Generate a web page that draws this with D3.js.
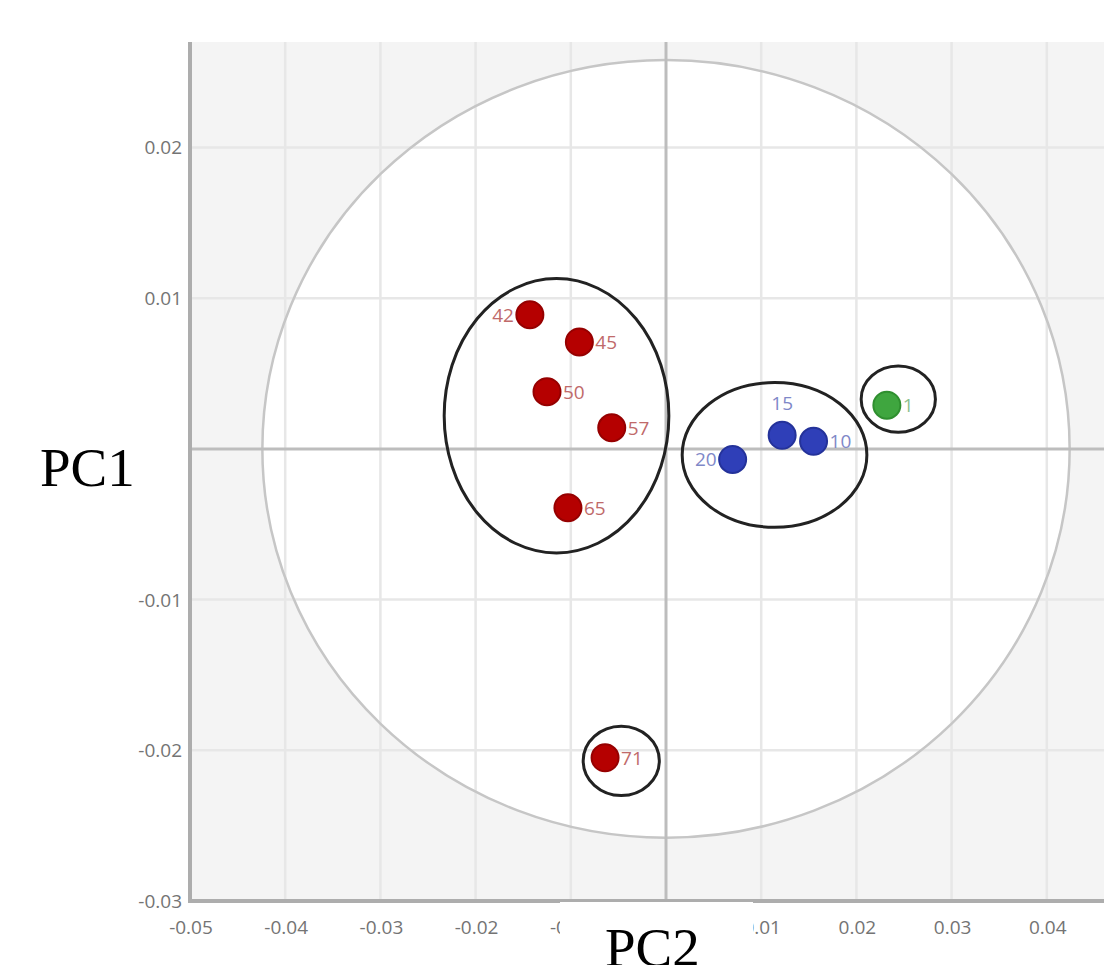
<!DOCTYPE html>
<html>
<head>
<meta charset="utf-8">
<script src="https://cdn.jsdelivr.net/npm/d3@7"></script>
<style>
  body { margin: 0; background: #fff; }
  svg { display: block; }
</style>
</head>
<body>
<svg id="chart" width="1104" height="965"></svg>
<script>
// sample scores
let sampleNames = ["42", "45", "50", "57", "65", "71", "15", "10", "20", "1"];
let sampleGroups = ["red", "red", "red", "red", "red", "red", "blue", "blue", "blue", "green"];
let pc2Values = [-0.0143, -0.0091, -0.0125, -0.0057, -0.0103, -0.0064, 0.0122, 0.0155, 0.0070, 0.0232];
let pc1Values = [0.0089, 0.0071, 0.0038, 0.0014, -0.0039, -0.0205, 0.0009, 0.0005, -0.0007, 0.0029];
let labelSides = ["left", "right", "right", "right", "right", "right", "top", "right", "left", "right"];

// hand drawn group rings (centre x, centre y, radius x, radius y)
let ringCx = [-0.0115, 0.0114, 0.0244, -0.0047];
let ringCy = [0.0022, -0.0004, 0.0033, -0.0207];
let ringRx = [0.0118, 0.0097, 0.0039, 0.0040];
let ringRy = [0.0091, 0.0048, 0.0022, 0.0023];

// big reference circle
let circleRx = 0.0424;
let circleRy = 0.0258;

let xTicks = [-0.05, -0.04, -0.03, -0.02, -0.01, 0, 0.01, 0.02, 0.03, 0.04];
let xTickLabels = ["-0.05", "-0.04", "-0.03", "-0.02", "-0.01", "0", "0.01", "0.02", "0.03", "0.04"];
let yTicks = [-0.03, -0.02, -0.01, 0, 0.01, 0.02];
let yTickLabels = ["-0.03", "-0.02", "-0.01", "0", "0.01", "0.02"];

let colours = {"red": "#b50000", "blue": "#2f3fb8", "green": "#3fa63f"};
let strokes = {"red": "#960000", "blue": "#24329a", "green": "#2f8f2f"};
let labelColours = {"red": "#c06a6a", "blue": "#7f88c8", "green": "#8cbf8c"};

let svg = d3.select("#chart");
let width = 1104, height = 965;
let margin = {"left": 190, "top": 42, "bottom": 64};

let x = d3.scaleLinear().domain([-0.05, 0.05]).range([margin.left, margin.left + 952]);
let y = d3.scaleLinear().domain([-0.03, 0.027]).range([height - margin.bottom, margin.top]);

let plotW = x(0.05) - x(-0.05);
let plotH = y(-0.03) - y(0.027);

svg.append("defs").append("clipPath").attr("id", "plotClip")
  .append("rect")
  .attr("x", x(-0.05)).attr("y", y(0.027))
  .attr("width", plotW).attr("height", plotH);

let plot = svg.append("g").attr("clip-path", "url(#plotClip)");

plot.append("rect")
  .attr("x", x(-0.05)).attr("y", y(0.027))
  .attr("width", plotW).attr("height", plotH)
  .attr("fill", "#f4f4f4");

// white inside the circle
plot.append("ellipse")
  .attr("cx", x(0)).attr("cy", y(0))
  .attr("rx", x(circleRx) - x(0))
  .attr("ry", y(0) - y(circleRy))
  .attr("fill", "#fff");

// grid
plot.selectAll(".vgrid")
  .data(xTicks.filter(d => d !== 0).concat([0.05]))
  .enter().append("line")
    .attr("class", "vgrid")
    .attr("x1", d => x(d)).attr("x2", d => x(d))
    .attr("y1", y(0.027)).attr("y2", y(-0.03))
    .attr("stroke", "#e7e7e7")
    .attr("stroke-width", 2.5);

plot.selectAll(".hgrid")
  .data(yTicks.filter(d => d !== 0))
  .enter().append("line")
    .attr("class", "hgrid")
    .attr("x1", x(-0.05)).attr("x2", x(0.05))
    .attr("y1", d => y(d)).attr("y2", d => y(d))
    .attr("stroke", "#e7e7e7")
    .attr("stroke-width", 2.5);

plot.append("ellipse")
  .attr("cx", x(0)).attr("cy", y(0))
  .attr("rx", x(circleRx) - x(0))
  .attr("ry", y(0) - y(circleRy))
  .attr("fill", "none")
  .attr("stroke", "#c6c6c6")
  .attr("stroke-width", 2.5);

// zero lines
plot.append("line")
  .attr("x1", x(0)).attr("x2", x(0))
  .attr("y1", y(0.027)).attr("y2", y(-0.03))
  .attr("stroke", "#bdbdbd").attr("stroke-width", 3);
plot.append("line")
  .attr("x1", x(-0.05)).attr("x2", x(0.05))
  .attr("y1", y(0)).attr("y2", y(0))
  .attr("stroke", "#bdbdbd").attr("stroke-width", 3);

// group rings
plot.selectAll(".ring")
  .data(ringCx.map((d, i) => ({cx: d, cy: ringCy[i], rx: ringRx[i], ry: ringRy[i]})))
  .enter().append("ellipse")
    .attr("class", "ring")
    .attr("cx", d => x(d.cx)).attr("cy", d => y(d.cy))
    .attr("rx", d => x(d.rx) - x(0))
    .attr("ry", d => y(0) - y(d.ry))
    .attr("fill", "none")
    .attr("stroke", "#222")
    .attr("stroke-width", 3);

let samples = sampleNames.map((n, i) => ({
  name: n, group: sampleGroups[i], px: pc2Values[i], py: pc1Values[i], side: labelSides[i]
}));

plot.selectAll(".pt")
  .data(samples)
  .enter().append("circle")
    .attr("class", "pt")
    .attr("cx", d => x(d.px)).attr("cy", d => y(d.py))
    .attr("r", 13.5)
    .attr("fill", d => colours[d.group])
    .attr("stroke", d => strokes[d.group])
    .attr("stroke-width", 2);

plot.selectAll(".ptLabel")
  .data(samples)
  .enter().append("text")
    .attr("class", "ptLabel")
    .attr("x", function(d){
      if (d.side === "left") return x(d.px) - 16;
      if (d.side === "right") return x(d.px) + 16;
      return x(d.px);
    })
    .attr("y", d => d.side === "top" ? y(d.py) - 25 : y(d.py) + 7)
    .attr("text-anchor", d => d.side === "left" ? "end" : (d.side === "top" ? "middle" : "start"))
    .attr("font-family", "'Open Sans', 'DejaVu Sans', sans-serif")
    .attr("font-size", 19)
    .attr("fill", d => labelColours[d.group])
    .text(d => d.name);

// outer axes
svg.append("line")
  .attr("x1", x(-0.05)).attr("x2", x(-0.05))
  .attr("y1", y(0.027)).attr("y2", y(-0.03) + 1.5)
  .attr("stroke", "#adadad").attr("stroke-width", 4);
svg.append("line")
  .attr("x1", x(-0.05) - 2).attr("x2", width)
  .attr("y1", y(-0.03)).attr("y2", y(-0.03))
  .attr("stroke", "#adadad").attr("stroke-width", 4);

// tick labels
svg.selectAll(".xLab")
  .data(xTicks)
  .enter().append("text")
    .attr("class", "xLab")
    .attr("x", d => x(d) + 1)
    .attr("y", y(-0.03) + 33)
    .attr("text-anchor", "middle")
    .attr("font-family", "'Open Sans', 'DejaVu Sans', sans-serif")
    .attr("font-size", 19)
    .attr("fill", "#747474")
    .text((d, i) => xTickLabels[i]);

svg.selectAll(".yLab")
  .data(yTicks)
  .enter().append("text")
    .attr("class", "yLab")
    .attr("x", x(-0.05) - 8)
    .attr("y", d => y(d) + 7)
    .attr("text-anchor", "end")
    .attr("font-family", "'Open Sans', 'DejaVu Sans', sans-serif")
    .attr("font-size", 19)
    .attr("fill", "#747474")
    .text((d, i) => yTickLabels[i]);

// white boxes behind the axis titles
svg.append("rect")
  .attr("x", 560).attr("y", y(-0.03) + 1)
  .attr("width", 193).attr("height", 70)
  .attr("fill", "#fff");
svg.append("rect")
  .attr("x", 0).attr("y", y(0) - 30)
  .attr("width", x(-0.05) - 4).attr("height", 60)
  .attr("fill", "#fff");

svg.append("text")
  .attr("x", 40).attr("y", 486)
  .attr("font-family", "'Liberation Serif', 'Times New Roman', serif")
  .attr("font-size", 55)
  .attr("fill", "#000")
  .text("PC1");

svg.append("text")
  .attr("x", 605).attr("y", 966)
  .attr("font-family", "'Liberation Serif', 'Times New Roman', serif")
  .attr("font-size", 55)
  .attr("fill", "#000")
  .text("PC2");
</script>
</body>
</html>
